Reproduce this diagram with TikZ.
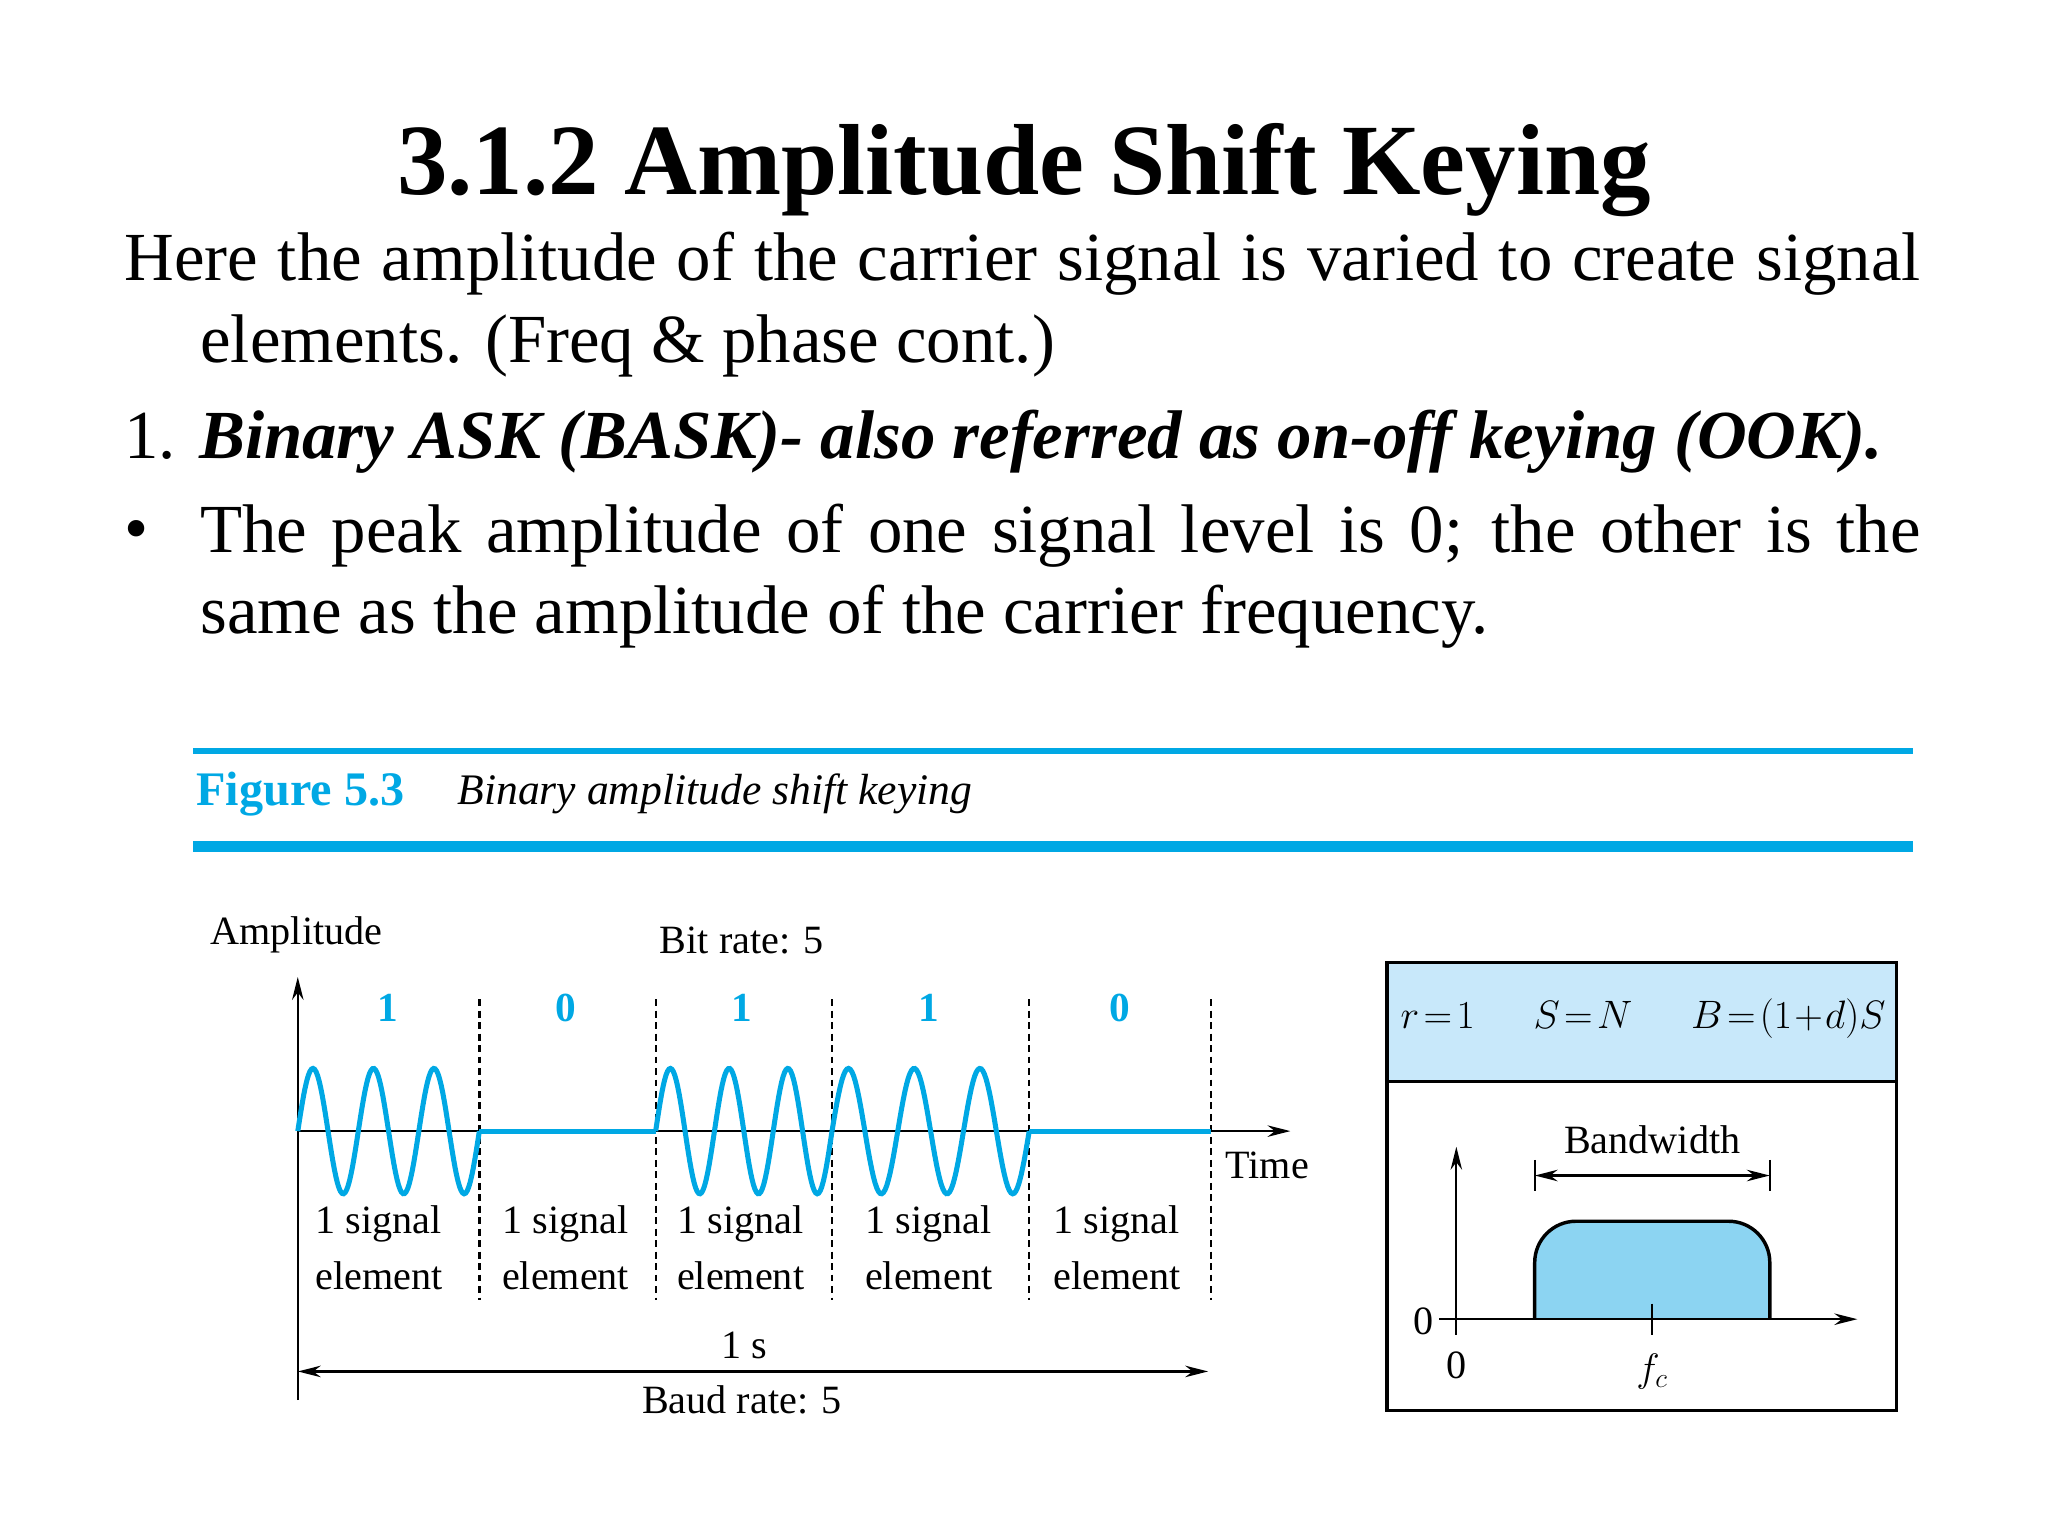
\documentclass[tikz,border=0pt]{standalone}
\usepackage{fontspec}
\setmainfont{Liberation Serif}
\usetikzlibrary{arrows.meta}
\definecolor{fblue}{RGB}{0,168,228}
\definecolor{lband}{RGB}{200,232,250}
\definecolor{specfill}{RGB}{140,212,242}
\tikzset{
  body/.style={anchor=west,font=\fontsize{30}{32}\selectfont,inner sep=0},
  lab/.style={font=\fontsize{17.5}{20}\selectfont,inner sep=0},
  bit/.style={font=\fontsize{18}{20}\selectfont\bfseries,text=fblue,inner sep=0},
  wave/.style={fblue,line width=2.2pt},
  ax/.style={line width=1pt,-{Stealth[length=10pt,width=5pt]}},
  dl/.style={densely dashed,line width=1pt}
}
\begin{document}
\begin{tikzpicture}[x=0.02cm,y=-0.02cm]
\useasboundingbox (0,0) rectangle (1568,1176);
\node[font=\fontsize{44}{46}\selectfont\bfseries,inner sep=0] (title) at (784,130) {3.1.2 Amplitude Shift Keying};
\node[body] (l1) at (95,202) {\makebox[1375\dimexpr0.02cm][s]{Here the amplitude of the carrier signal is varied to create signal}};
\node[body] (l2) at (153,265) {elements. (Freq \& phase cont.)};
\node[body] (l3) at (95,338) {1. \textbf{\textit{Binary ASK (BASK)- also referred as on-off keying (OOK).}}};
\node[body] (bul) at (95,410) {\textbullet};
\node[body] (l4) at (153,410) {\makebox[1317\dimexpr0.02cm][s]{The peak amplitude of one signal level is 0; the other is the}};
\node[body] (l5) at (153,472) {same as the amplitude of the carrier frequency.};
% figure header
\draw[fblue,line width=3pt] (148,575) -- (1465,575);
\draw[fblue,line width=5pt] (148,648) -- (1465,648);
\node[anchor=west,text=fblue,font=\fontsize{21}{23}\selectfont\bfseries,inner sep=0] (fig) at (150,608) {Figure 5.3};
\node[anchor=west,font=\fontsize{19}{21}\selectfont\itshape,inner sep=0] (figt) at (350,608) {Binary amplitude shift keying};
% signal
\node[lab] (amp) at (227,716) {Amplitude};
\node[lab] (br) at (568,720) {Bit rate: 5};
\node[lab,anchor=west] (time) at (938,892) {Time};
\draw[ax] (228,1072) -- (228,748);
\draw[ax] (228,866) -- (988,866);
\foreach \x in {367,502,637,788,927} \draw[dl] (\x,765) -- (\x,995);
\foreach \x/\b in {297/1,433/0,568/1,711/1,857/0} \node[bit] at (\x,772) {\b};
\draw[wave] plot[domain=228:367,samples=120] (\x,{866-48*sin((\x-228)/139*1080)});
\draw[wave] (367,866) -- (502,866);
\draw[wave] plot[domain=502:637,samples=120] (\x,{866-48*sin((\x-502)/135*1080)});
\draw[wave] plot[domain=637:788,samples=120] (\x,{866-48*sin((\x-637)/151*1080)});
\draw[wave] (788,866) -- (927,866);
\foreach \x in {290,433,567,711,855} {
  \node[lab] at (\x,937) {1 signal};
  \node[lab] at (\x,977) {element};
}
\node[lab] (ones) at (570,1030) {1 s};
\draw[line width=1pt,{Stealth[length=10pt,width=5pt]}-{Stealth[length=10pt,width=5pt]}] (228,1050) -- (925,1050);
\node[lab] (baud) at (568,1072) {Baud rate: 5};
% right box
\fill[lband] (1062,737) rectangle (1452,828);
\draw[line width=1.5pt] (1062,737) rectangle (1452,1080);
\draw[line width=1.5pt] (1062,828) -- (1452,828);
\node[font=\fontsize{16}{18}\selectfont,inner sep=0] (formula) at (1258,780) {$r\!=\!1\quad\;\; S\!=\!N\quad\;\; B\!=\!(1\!+\!d)S$};
\fill[specfill,draw=black,line width=1.5pt,rounded corners=18pt] (1175,1010) -- (1175,935) -- (1355,935) -- (1355,1010);
\draw[ax] (1115,1022) -- (1115,878);
\draw[ax] (1102,1010) -- (1422,1010);
\draw[line width=1pt] (1265,998) -- (1265,1022);
\node[lab] (z1) at (1090,1012) {0};
\node[lab] (z2) at (1115,1045) {0};
\node[lab] (fc) at (1265,1050) {$f_c$};
\node[lab] (bw) at (1265,873) {Bandwidth};
\draw[line width=1pt,{Stealth[length=10pt,width=5pt]}-{Stealth[length=10pt,width=5pt]}] (1175,900) -- (1355,900);
\draw[line width=1pt] (1175,888) -- (1175,912) (1355,888) -- (1355,912);
\end{tikzpicture}
\end{document}
